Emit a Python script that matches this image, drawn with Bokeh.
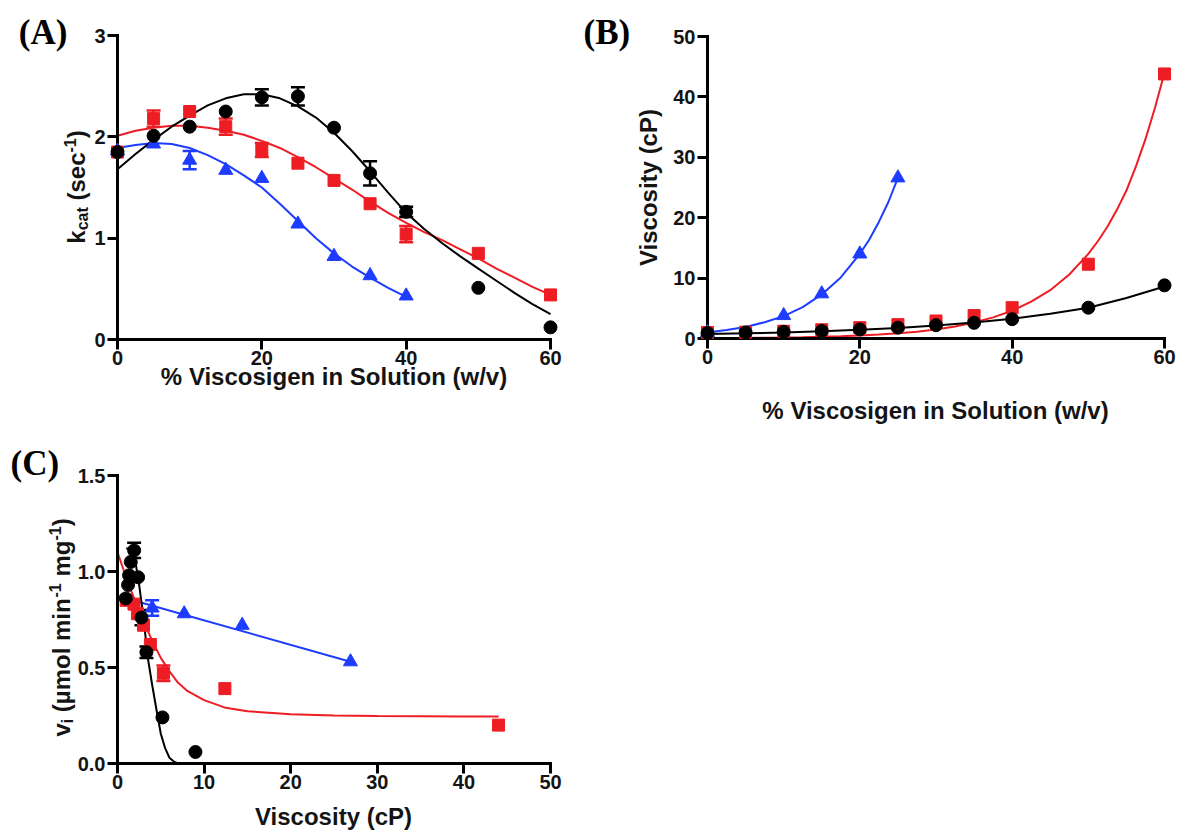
import math
from bokeh.plotting import figure
from bokeh.models import (Whisker, TeeHead, ColumnDataSource, FixedTicker,
                          PrintfTickFormatter, Range1d)
from bokeh.core.properties import value
from bokeh.layouts import row, column
from bokeh.embed import file_html
from bokeh.resources import INLINE

# ---------------- data ----------------
# Panel A: kcat (sec-1) vs % viscosigen (w/v)
a_black_x = [0, 5, 10, 15, 20, 25, 30, 35, 40, 50, 60]
a_black_y = [1.85, 2.01, 2.10, 2.25, 2.39, 2.40, 2.09, 1.64, 1.26, 0.51, 0.12]
a_black_err = [0, 0, 0, 0, 0.08, 0.09, 0, 0.12, 0.05, 0, 0]
a_red_x = [0, 5, 10, 15, 20, 25, 30, 35, 40, 50, 60]
a_red_y = [1.85, 2.18, 2.25, 2.10, 1.87, 1.74, 1.57, 1.34, 1.04, 0.85, 0.44]
a_red_err = [0, 0.08, 0, 0.08, 0.07, 0, 0, 0, 0.08, 0, 0]
a_blue_x = [0, 5, 10, 15, 20, 25, 30, 35, 40]
a_blue_y = [1.86, 1.93, 1.77, 1.67, 1.59, 1.14, 0.82, 0.63, 0.43]
a_blue_err = [0, 0, 0.09, 0, 0, 0, 0, 0, 0]

a_fit_x = [0, 2.5, 5, 7.5, 10, 12.5, 15, 17.5, 20, 22.5, 25, 27.5, 30,
           32.5, 35, 37.5, 40, 42.5, 45, 47.5, 50, 52.5, 55, 57.5, 60]
a_black_fit = [1.68, 1.83, 1.97, 2.10, 2.21, 2.31, 2.38, 2.42, 2.42, 2.38, 2.30, 2.19, 2.04,
               1.86, 1.66, 1.45, 1.25, 1.09, 0.95, 0.82, 0.70, 0.58, 0.46, 0.35, 0.25]
a_red_fit = [2.01, 2.06, 2.09, 2.11, 2.11, 2.09, 2.06, 2.02, 1.96, 1.89, 1.80, 1.70, 1.59,
             1.48, 1.36, 1.25, 1.15, 1.06, 0.98, 0.89, 0.80, 0.70, 0.61, 0.52, 0.44]
a_blue_fit_x = [0, 2.5, 5, 7.5, 10, 12.5, 15, 17.5, 20, 22.5, 25, 27.5, 30, 32.5, 35, 37.5, 40]
a_blue_fit = [1.89, 1.92, 1.94, 1.93, 1.89, 1.82, 1.73, 1.62, 1.50, 1.34, 1.17, 1.00, 0.85,
              0.72, 0.61, 0.51, 0.42]

# Panel B: viscosity (cP) vs % viscosigen (w/v)
b_black_x = [0, 5, 10, 15, 20, 25, 30, 35, 40, 50, 60]
b_black_y = [0.9, 1.0, 1.1, 1.25, 1.5, 1.8, 2.2, 2.6, 3.2, 5.1, 8.8]
b_red_x = [0, 5, 10, 15, 20, 25, 30, 35, 40, 50, 60]
b_red_y = [1.0, 1.05, 1.2, 1.45, 1.8, 2.3, 2.9, 3.8, 5.1, 12.3, 43.8]
b_blue_x = [0, 10, 15, 20, 25]
b_blue_y = [1.0, 3.8, 7.4, 14.0, 26.6]

b_black_fit_x = [0, 5, 10, 15, 20, 25, 30, 35, 40, 45, 50, 55, 60]
b_black_fit = [0.75, 0.85, 1.0, 1.2, 1.45, 1.75, 2.15, 2.65, 3.25, 4.1, 5.1, 6.7, 8.6]
b_red_fit_x = [0, 2.5, 5, 7.5, 10, 12.5, 15, 17.5, 20, 22.5, 25, 27.5, 30, 32.5, 35,
               37.5, 40, 42.5, 45, 47.5, 50, 51.25, 52.5, 53.75, 55, 56.25, 57.5, 58.75, 60]
b_red_fit = [0.05, 0.07, 0.09, 0.12, 0.16, 0.21, 0.28, 0.37, 0.5, 0.65, 0.85, 1.13, 1.5,
             2.0, 2.65, 3.5, 4.6, 6.1, 8.0, 10.6, 14.0, 16.1, 18.5, 21.3, 24.5, 28.5, 33.0,
             38.2, 44.0]
b_blue_fit_x = [0, 2.5, 5, 7.5, 10, 12.5, 15, 17.5, 20, 21.25, 22.5, 23.75, 25]
b_blue_fit = [1.0, 1.4, 1.9, 2.7, 3.7, 5.2, 7.3, 10.1, 14.0, 16.4, 19.3, 22.6, 26.6]

# Panel C: vi (umol min-1 mg-1) vs viscosity (cP)
c_black_x = [0.96, 1.22, 1.34, 1.53, 1.92, 2.38, 2.77, 3.34, 5.19, 9.0]
c_black_y = [0.86, 0.93, 0.98, 1.05, 1.11, 0.97, 0.76, 0.58, 0.24, 0.06]
c_black_err = [0, 0, 0, 0, 0.04, 0, 0.04, 0.03, 0, 0]
c_red_x = [1.0, 1.9, 2.3, 3.0, 3.8, 5.3, 12.4, 44.0]
c_red_y = [0.85, 0.83, 0.78, 0.72, 0.62, 0.47, 0.39, 0.20]
c_red_err = [0, 0, 0, 0, 0, 0.04, 0, 0]
c_blue_x = [4.0, 7.7, 14.4, 26.9]
c_blue_y = [0.81, 0.78, 0.72, 0.53]
c_blue_err = [0.04, 0, 0, 0]

c_black_fit_x = [1.0, 1.5, 2.0, 2.5, 3.0, 3.5, 4.0, 4.5, 5.0, 5.5, 6.0, 6.5, 7.0, 9.0]
c_black_fit = [1.12, 1.12, 1.07, 0.93, 0.76, 0.55, 0.41, 0.28, 0.155, 0.08, 0.03, 0.01, 0.0, 0.0]
c_red_fit_x = [0, 1, 2, 3, 4, 5, 6, 7, 8, 10, 12.5, 15, 20, 25, 30, 35, 40, 44]
c_red_fit = [1.10, 0.97, 0.85, 0.74, 0.64, 0.55, 0.48, 0.42, 0.38, 0.33, 0.29, 0.272,
             0.257, 0.25, 0.247, 0.246, 0.245, 0.245]
c_blue_fit_x = [2.6, 26.9]
c_blue_fit = [0.84, 0.53]

a_xticks = [0, 20, 40, 60]
a_yticks = [0, 1, 2, 3]
b_xticks = [0, 20, 40, 60]
b_yticks = [0, 10, 20, 30, 40, 50]
c_xticks = [0, 10, 20, 30, 40, 50]
c_yticks = [0.0, 0.5, 1.0, 1.5]

x_title_ab = "% Viscosigen in Solution (w/v)"
x_title_c = "Viscosity (cP)"
y_title_b = "Viscosity (cP)"

# ---------------- style ----------------
BLACK = "#000000"
RED = "#ee1d24"
BLUE = "#1d3cff"
TXT = "#141414"
FONT = "Liberation Sans"
SERIF = "Liberation Serif"
TICK_FS = 20
LAB_FS = 24

EM = {" ": 0.278, "(": 0.333, ")": 0.333, "-": 0.333, "1": 0.556, "k": 0.556, "c": 0.556,
      "a": 0.556, "t": 0.333, "s": 0.556, "e": 0.556, "v": 0.556, "i": 0.278, "µ": 0.611,
      "m": 0.889, "o": 0.611, "l": 0.278, "n": 0.611, "g": 0.611}


def text_w(s, size):
    return sum(EM.get(ch, 0.6) for ch in s) * size


def make_fig(w, h, xr, yr, bl, br, bt, bb):
    p = figure(width=w, height=h, x_range=Range1d(*xr), y_range=Range1d(*yr),
               output_backend="svg", toolbar_location=None,
               min_border_left=bl, min_border_right=br, min_border_top=bt, min_border_bottom=bb)
    p.outline_line_color = None
    p.grid.visible = False
    p.background_fill_color = "white"
    p.border_fill_color = "white"
    for ax in p.axis:
        ax.axis_line_width = 3
        ax.axis_line_color = BLACK
        ax.axis_line_cap = "square"
        ax.major_tick_line_width = 3
        ax.major_tick_line_color = BLACK
        ax.major_tick_out = 10
        ax.major_tick_in = 0
        ax.minor_tick_line_color = None
        ax.major_label_text_font = FONT
        ax.major_label_text_font_style = "bold"
        ax.major_label_text_font_size = f"{TICK_FS}px"
        ax.major_label_text_color = TXT
        ax.axis_label_text_font = FONT
        ax.axis_label_text_font_style = "bold"
        ax.axis_label_text_font_size = f"{LAB_FS}px"
        ax.axis_label_text_color = TXT
    p.xaxis.major_label_standoff = 1
    p.yaxis.major_label_standoff = 2
    return p


def add_series(p, fx, fy, xs, ys, errs, color, marker, size):
    p.line(fx, fy, line_color=color, line_width=2, level="guide")
    if errs is not None:
        idx = [i for i, e in enumerate(errs) if e > 0]
        if idx:
            src = ColumnDataSource(dict(x=[xs[i] for i in idx],
                                        lo=[ys[i] - errs[i] for i in idx],
                                        hi=[ys[i] + errs[i] for i in idx]))
            head = dict(size=14, line_color=color, line_width=2.5)
            p.add_layout(Whisker(source=src, base="x", lower="lo", upper="hi", dimension="height",
                                 line_color=color, line_width=2.5, level="guide",
                                 upper_head=TeeHead(**head), lower_head=TeeHead(**head)))
    p.scatter(xs, ys, marker=marker, size=size, fill_color=color, line_color=color, level="overlay")


def txt(p, x, y, text, size, align="left", angle=0.0, font=FONT, color=TXT, baseline="middle"):
    p.text(x=[x], y=[y], text=[text], angle=angle, text_font=value(font),
           text_font_style="bold", text_font_size=value(f"{size}px"), text_color=color,
           text_align=align, text_baseline=baseline, level="overlay")


def add_rich_ylabel(p, pieces, center_py, mid_px, conv_x, conv_y, size, small):
    """Vertical label reading bottom-to-top, built from normal / sub / super pieces."""
    total = sum(text_w(t, small if k != 0 else size) for t, k in pieces)
    py = center_py + total / 2.0
    for t, k in pieces:
        fs = size if k == 0 else small
        lead = len(t) - len(t.lstrip(" "))
        py -= text_w(" " * lead, fs)
        body = t.lstrip(" ")
        shift = {0: 0, 1: 6, -1: -7}[k]
        txt(p, conv_x(mid_px + shift), conv_y(py), body, fs, angle=math.pi / 2)
        py -= text_w(body, fs)


# ---------------- Panel A ----------------
pA = make_fig(582, 440, (0, 60), (0, 3), 114, 12, 35, 101)
ax_ = lambda px: (px - 114) * 60 / 456
ay_ = lambda py: (339 - py) * 3 / 304
pA.xaxis.ticker = FixedTicker(ticks=a_xticks, minor_ticks=[])
pA.yaxis.ticker = FixedTicker(ticks=a_yticks, minor_ticks=[])
add_series(pA, a_blue_fit_x, a_blue_fit, a_blue_x, a_blue_y, a_blue_err, BLUE, "triangle", 14)
add_series(pA, a_fit_x, a_red_fit, a_red_x, a_red_y, a_red_err, RED, "square", 12)
add_series(pA, a_fit_x, a_black_fit, a_black_x, a_black_y, a_black_err, BLACK, "circle", 13)
txt(pA, ax_(342), ay_(376), x_title_ab, LAB_FS, align="center")
add_rich_ylabel(pA, [("k", 0), ("cat", 1), (" (sec", 0), ("-1", -1), (")", 0)],
                186.5, 71, ax_, ay_, LAB_FS, 16)
txt(pA, ax_(10), ay_(32), "(A)", 35, font=SERIF, color=BLACK)

# ---------------- Panel C ----------------
pC = make_fig(582, 392, (0, 50), (0, 1.5), 117, 32, 35, 69)
cx_ = lambda px: (px - 117) * 50 / 433
cy_ = lambda py: (763 - py) * 1.5 / 288   # page coordinates
pC.xaxis.ticker = FixedTicker(ticks=c_xticks, minor_ticks=[])
pC.yaxis.ticker = FixedTicker(ticks=c_yticks, minor_ticks=[])
pC.yaxis.formatter = PrintfTickFormatter(format="%.1f")
add_series(pC, c_blue_fit_x, c_blue_fit, c_blue_x, c_blue_y, c_blue_err, BLUE, "triangle", 14)
add_series(pC, c_red_fit_x, c_red_fit, c_red_x, c_red_y, c_red_err, RED, "square", 12)
add_series(pC, c_black_fit_x, c_black_fit, c_black_x, c_black_y, c_black_err, BLACK, "circle", 13)
txt(pC, cx_(333), cy_(816), x_title_c, LAB_FS, align="center")
add_rich_ylabel(pC, [("v", 0), ("i", 1), (" (µmol min", 0), ("-1", -1), (" mg", 0), ("-1", -1), (")", 0)],
                627, 61, cx_, cy_, LAB_FS, 16)
txt(pC, cx_(10), cy_(463), "(C)", 35, font=SERIF, color=BLACK)

# ---------------- Panel B ----------------
pB = make_fig(599, 832, (0, 60), (0, 50), 125, 17, 36, 494)
bx_ = lambda px: (px - 707) * 60 / 457
by_ = lambda py: (338 - py) * 50 / 302
pB.xaxis.ticker = FixedTicker(ticks=b_xticks, minor_ticks=[])
pB.yaxis.ticker = FixedTicker(ticks=b_yticks, minor_ticks=[])
pB.yaxis.axis_label = y_title_b
pB.yaxis.axis_label_standoff = 8
add_series(pB, b_blue_fit_x, b_blue_fit, b_blue_x, b_blue_y, None, BLUE, "triangle", 14)
add_series(pB, b_red_fit_x, b_red_fit, b_red_x, b_red_y, None, RED, "square", 12)
add_series(pB, b_black_fit_x, b_black_fit, b_black_x, b_black_y, None, BLACK, "circle", 13)
txt(pB, bx_(935), by_(410), x_title_ab, LAB_FS, align="center")
txt(pB, bx_(583), by_(32), "(B)", 35, font=SERIF, color=BLACK)

layout = row(column(pA, pC), pB)
open("out.html", "w").write(file_html(layout, INLINE, title="Viscosigen kinetics"))
